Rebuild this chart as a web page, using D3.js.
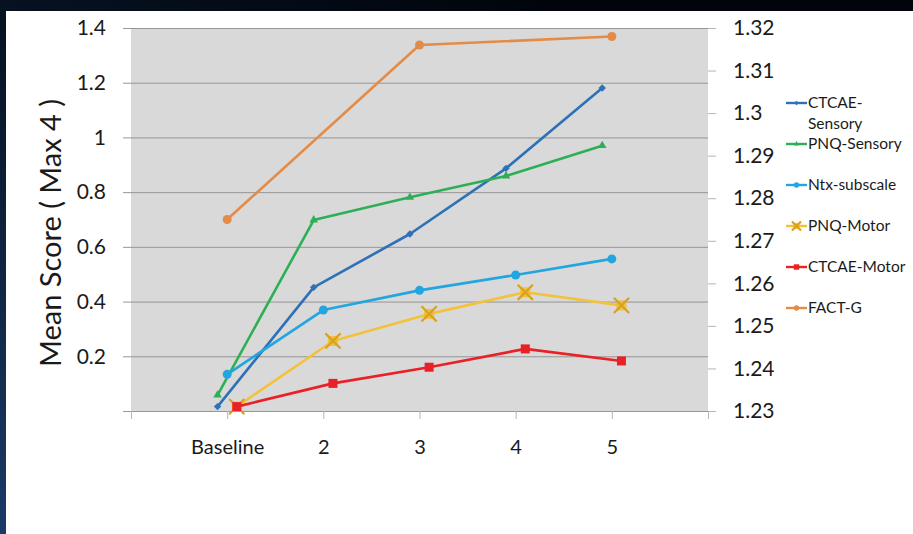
<!DOCTYPE html>
<html>
<head>
<meta charset="utf-8">
<script src="https://cdn.jsdelivr.net/npm/d3@7/dist/d3.min.js"></script>
<style>
  html, body { margin: 0; padding: 0; background: #050b16; }
  svg { display: block; }
  text { font-family: Lato, "Open Sans", sans-serif; fill: #1a1a1a; }
</style>
</head>
<body>
<svg id="chart" width="913" height="534"></svg>
<script>
// Assessment points along the x axis (slot 0 and slot 6 are empty padding slots)
const categories = ["Baseline", "2", "3", "4", "5"];

// Mean scores per assessment (left axis)
const ctcaeSensory = [0.016, 0.452, 0.647, 0.887, 1.181];
const pnqSensory   = [0.058, 0.698, 0.781, 0.859, 0.970];
const ntxSubscale  = [0.134, 0.369, 0.441, 0.497, 0.556];
const pnqMotor     = [0.016, 0.256, 0.355, 0.434, 0.386];
const ctcaeMotor   = [0.016, 0.101, 0.160, 0.227, 0.183];
// FACT-G is plotted against the right axis; only three assessments reported
const factG        = [1.275, null, 1.316, null, 1.318];

// Axis tick values
const leftTicks  = [0, 0.2, 0.4, 0.6, 0.8, 1, 1.2, 1.4];
const rightTicks = [1.23, 1.24, 1.25, 1.26, 1.27, 1.28, 1.29, 1.30, 1.31, 1.32];

const series = [
  { name: "CTCAE-Sensory", values: ctcaeSensory, color: "#2f71b7", marker: "diamond",  shift: -0.1, axis: "left" },
  { name: "PNQ-Sensory",   values: pnqSensory,   color: "#2daf55", marker: "triangle", shift: -0.1, axis: "left" },
  { name: "Ntx-subscale",  values: ntxSubscale,  color: "#22a5e0", marker: "circle",   shift: 0,    axis: "left" },
  { name: "PNQ-Motor",     values: pnqMotor,     color: "#f3c23c", marker: "x",        shift: 0.1,  axis: "left" },
  { name: "CTCAE-Motor",   values: ctcaeMotor,   color: "#ea2027", marker: "square",   shift: 0.1,  axis: "left" },
  { name: "FACT-G",        values: factG,        color: "#e38c48", marker: "circle",   shift: 0,    axis: "right" }
];

const svg = d3.select("#chart");
const W = 913, H = 534;

// Dark slide backdrop
const defs = svg.append("defs");
const bg = defs.append("linearGradient").attr("id", "bg")
  .attr("x1", 0.6).attr("y1", 0).attr("x2", 0).attr("y2", 1);
bg.append("stop").attr("offset", 0).attr("stop-color", "#01040b");
bg.append("stop").attr("offset", 0.45).attr("stop-color", "#0a1a30");
bg.append("stop").attr("offset", 1).attr("stop-color", "#1b3a66");
svg.append("rect").attr("width", W).attr("height", H).attr("fill", "url(#bg)");

// White chart panel
svg.append("rect").attr("x", 6).attr("y", 11).attr("width", W - 6).attr("height", H - 11).attr("fill", "#ffffff");

const plot = { left: 131, right: 708, top: 28, bottom: 411 };

const x = d3.scaleLinear().domain([0, 6]).range([plot.left, plot.right]);
const yL = d3.scaleLinear().domain([0, 1.4]).range([plot.bottom, plot.top]);
const yR = d3.scaleLinear().domain([1.23, 1.32]).range([plot.bottom, plot.top]);

// Plot area fill
svg.append("rect")
  .attr("x", plot.left).attr("y", plot.top)
  .attr("width", plot.right - plot.left).attr("height", plot.bottom - plot.top)
  .attr("fill", "#d9d9d9");

// Left axis: gridlines extend past the plot edge as tick marks
const leftAxis = d3.axisLeft(yL).tickValues(leftTicks)
  .tickSize(-(plot.right - plot.left)).tickSizeOuter(0).tickPadding(25)
  .tickFormat(d => d === 0 ? "" : d3.format("~g")(d));
const gL = svg.append("g").attr("transform", `translate(${plot.left},0)`).call(leftAxis);
gL.select(".domain").remove();
gL.selectAll(".tick line").attr("stroke", "#969696").attr("x1", -8);
gL.selectAll(".tick text").attr("font-size", 21).attr("fill", "#222");

// Right axis for FACT-G
const rightAxis = d3.axisRight(yR).tickValues(rightTicks)
  .tickSize(8).tickSizeOuter(0).tickPadding(17)
  .tickFormat(d3.format("~g"));
const gR = svg.append("g").attr("transform", `translate(${plot.right},0)`).call(rightAxis);
gR.select(".domain").remove();
gR.selectAll(".tick line").attr("stroke", "#b5b5b5");
gR.selectAll(".tick text").attr("font-size", 21).attr("fill", "#222");

// Bottom category axis
const bottomAxis = d3.axisBottom(x).tickValues(d3.range(0, 7))
  .tickSize(8).tickSizeOuter(0).tickPadding(21)
  .tickFormat(i => (i >= 1 && i <= categories.length) ? categories[i - 1] : "");
const gB = svg.append("g").attr("transform", `translate(0,${plot.bottom})`).call(bottomAxis);
gB.select(".domain").remove();
gB.selectAll(".tick line").attr("stroke", "#b5b5b5");
gB.selectAll(".tick text").attr("font-size", 20).attr("fill", "#111");

// Y axis title
svg.append("text")
  .attr("transform", `translate(61,233) rotate(-90)`)
  .attr("text-anchor", "middle")
  .attr("font-size", 29)
  .attr("fill", "#111")
  .text("Mean Score ( Max 4 )");

// Marker drawing
function marker(sel, type, color, size) {
  if (type === "circle") {
    sel.append("circle").attr("r", size * 0.5).attr("fill", color);
  } else if (type === "diamond") {
    sel.append("path").attr("d", d3.symbol(d3.symbolDiamond2, size * size * 0.55)()).attr("fill", color);
  } else if (type === "triangle") {
    sel.append("path").attr("d", d3.symbol(d3.symbolTriangle, size * size * 0.5)()).attr("fill", color);
  } else if (type === "square") {
    sel.append("rect").attr("x", -size / 2).attr("y", -size / 2).attr("width", size).attr("height", size).attr("fill", color);
  } else if (type === "x") {
    sel.append("rect").attr("x", -size / 2.6).attr("y", -size / 2.6).attr("width", size / 1.3).attr("height", size / 1.3)
      .attr("fill", "#f2bb2a").attr("opacity", 0.85);
    sel.append("path").attr("d", d3.symbol(d3.symbolX, size * size * 0.9)())
      .attr("fill", "none").attr("stroke", "#d9a21a").attr("stroke-width", 2.2);
  }
}

const markerSize = { circle: 9, diamond: 8, triangle: 8, square: 9, x: 13 };

series.forEach(s => {
  const y = s.axis === "left" ? yL : yR;
  const pts = s.values
    .map((v, i) => ({ v, i: i + 1 }))
    .filter(d => d.v !== null);
  const line = d3.line().x(d => x(d.i + s.shift)).y(d => y(d.v));
  svg.append("path").datum(pts)
    .attr("d", line)
    .attr("fill", "none").attr("stroke", s.color).attr("stroke-width", 2.6)
    .attr("stroke-linejoin", "round");
  const g = svg.append("g");
  pts.forEach(d => {
    const m = g.append("g").attr("transform", `translate(${x(d.i + s.shift)},${y(d.v)})`);
    marker(m, s.marker, s.color, markerSize[s.marker]);
  });
});

// Legend
const legendRows = [103, 144, 185, 226, 267, 308];
const legend = svg.append("g");
series.forEach((s, k) => {
  const g = legend.append("g").attr("transform", `translate(786,${legendRows[k]})`);
  g.append("line").attr("x1", 0).attr("x2", 21).attr("stroke", s.color).attr("stroke-width", 2.4);
  const m = g.append("g").attr("transform", "translate(10.5,0)");
  marker(m, s.marker, s.color, markerSize[s.marker] * 0.6);
  const label = s.name === "CTCAE-Sensory" ? ["CTCAE-", "Sensory"] : [s.name];
  const t = g.append("text").attr("x", 22).attr("y", 0).attr("font-size", 15.5).attr("fill", "#111");
  label.forEach((ln, j) => {
    t.append("tspan").attr("x", 22).attr("dy", j === 0 ? "0.35em" : "1.3em").text(ln);
  });
});
</script>
</body>
</html>
